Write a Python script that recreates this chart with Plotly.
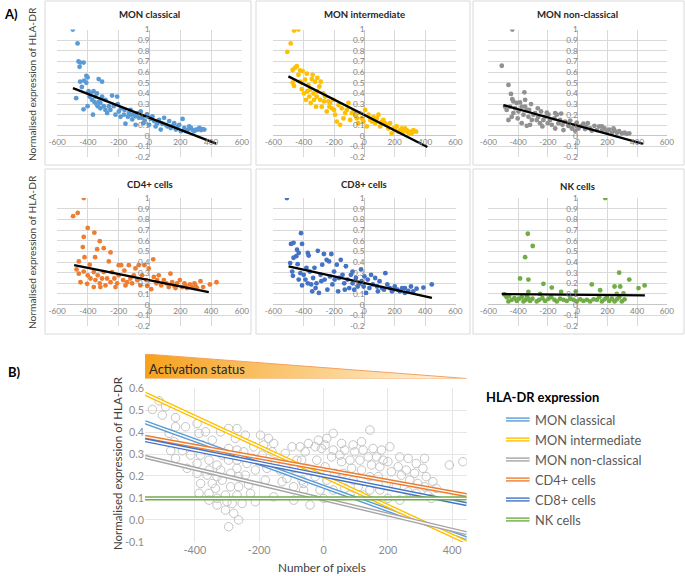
import numpy as np
import plotly.graph_objects as go

# ---------------------------------------------------------------- data
CELL_TYPES = ["MON classical", "MON intermediate", "MON non-classical",
              "CD4+ cells", "CD8+ cells", "NK cells"]
SERIES_COLORS = ["#5B9BD5", "#FFC000", "#A5A5A5", "#ED7D31", "#4472C4", "#70AD47"]
DOT_COLORS = ["#5B9BD5", "#FFC000", "#919191", "#ED7D31", "#4472C4", "#70AD47"]

MON_CLASSICAL = [(-498,1.0),(-467,0.87),(-461,0.70),(-454,0.65),(-428,0.69),(-450,0.69),(-476,0.355),(-428,0.25),
    (-439,0.46),(-450,0.51),(-424,0.52),(-410,0.565),(-402,0.55),(-410,0.50),(-395,0.42),(-384,0.40),(-402,0.28),
    (-363,0.42),(-352,0.37),(-341,0.40),(-367,0.20),(-330,0.535),(-308,0.51),(-330,0.32),(-319,0.26),(-297,0.28),
    (-286,0.34),(-275,0.215),(-254,0.245),(-243,0.38),(-221,0.20),(-210,0.37),(-199,0.23),(-188,0.18),(-166,0.20),
    (-156,0.115),(-134,0.215),(-123,0.245),(-112,0.155),(-101,0.20),(-90,0.105),(-68,0.17),(-57,0.23),(-40,0.12),
    (-14,0.185),(-3,0.105),(8,0.16),(30,0.14),(40,0.09),(62,0.15),(73,0.06),(95,0.17),(106,0.105),(128,0.14),
    (138,0.075),(160,0.12),(182,0.09),(204,0.045),(215,0.16),(226,0.075),(248,0.055),(269,0.075),(291,0.045),
    (313,0.06),(335,0.055),(345,0.065),(-389,0.37),(-373,0.34),(-358,0.32),(-345,0.30),(-319,0.31),(-308,0.37),
    (-336,0.28),(-286,0.245),(-264,0.28),(-232,0.28),(-206,0.30),(-184,0.26),(-162,0.245),(-140,0.18),(-119,0.20),
    (-90,0.185),(-75,0.215),(-47,0.17),(-31,0.145),(-18,0.20),(19,0.185),(51,0.12),(84,0.115),(117,0.09),
    (149,0.095),(171,0.06),(193,0.105),(237,0.045),(258,0.09),(280,0.055),(324,0.075),(356,0.06),(302,0.06)]

MON_INTERMEDIATE = [(-508,0.79),(-486,0.87),(-464,0.99),(-435,1.0),(-473,0.62),(-457,0.64),(-446,0.655),(-424,0.615),
    (-473,0.50),(-464,0.47),(-435,0.575),(-424,0.51),(-407,0.61),(-413,0.44),(-398,0.40),(-391,0.53),(-380,0.585),
    (-385,0.34),(-369,0.48),(-363,0.37),(-358,0.435),(-347,0.535),(-341,0.575),(-332,0.34),(-325,0.51),(-319,0.275),
    (-310,0.545),(-310,0.42),(-297,0.465),(-288,0.51),(-292,0.34),(-281,0.275),(-270,0.40),(-259,0.37),(-248,0.23),
    (-237,0.325),(-226,0.31),(-215,0.26),(-204,0.34),(-193,0.20),(-182,0.135),(-171,0.29),(-160,0.105),(-149,0.26),
    (-138,0.165),(-127,0.215),(-116,0.245),(-105,0.31),(-94,0.15),(-83,0.215),(-72,0.23),(-61,0.20),(-40,0.12),
    (-28,0.215),(-17,0.165),(-6,0.135),(5,0.245),(16,0.09),(27,0.20),(38,0.15),(60,0.18),(71,0.12),(82,0.165),
    (93,0.20),(104,0.09),(115,0.135),(125,0.15),(147,0.105),(158,0.07),(169,0.12),(180,0.025),(191,0.07),
    (213,0.09),(235,0.055),(257,0.04),(279,0.055),(301,0.04),(323,0.055),(341,0.04),(224,0.04),(268,0.07),
    (312,0.025),(-50,0.165),(49,0.135),(136,0.12),(202,0.055),(246,0.07),(290,0.03),(-376,0.42),(-354,0.31),
    (-336,0.40),(-413,0.50),(-314,0.37),(-266,0.325),(-231,0.275),(-200,0.245)]

MON_NONCLASSICAL = [(-510,0.66),(-439,1.0),(-465,0.48),(-448,0.395),(-439,0.345),(-432,0.325),(-358,0.41),(-488,0.275),
    (-477,0.245),(-465,0.15),(-454,0.275),(-432,0.215),(-421,0.26),(-409,0.31),(-398,0.23),(-387,0.315),(-376,0.275),
    (-376,0.12),(-364,0.20),(-353,0.275),(-342,0.245),(-342,0.095),(-331,0.18),(-313,0.30),(-308,0.15),(-297,0.20),
    (-286,0.215),(-275,0.15),(-264,0.18),(-246,0.23),(-237,0.09),(-230,0.15),(-219,0.18),(-201,0.12),(-196,0.20),
    (-185,0.15),(-174,0.105),(-156,0.165),(-140,0.20),(-129,0.12),(-118,0.15),(-111,0.21),(-102,0.105),(-84,0.135),
    (-62,0.095),(-50,0.145),(-39,0.07),(-21,0.105),(-6,0.125),(6,0.07),(24,0.095),(39,0.115),(50,0.065),(68,0.12),
    (84,0.07),(95,0.05),(113,0.095),(129,0.055),(145,0.09),(163,0.05),(181,0.07),(196,0.04),(212,0.06),(230,0.03),
    (248,0.05),(264,0.03),(279,0.045),(297,0.025),(315,0.03),(331,0.02),(347,0.025),(241,0.07),(163,0.09),
    (57,0.085),(-17,0.05),(-95,0.055),(-151,0.07),(-253,0.12),(-320,0.105),(-403,0.165),(-443,0.18),(-353,0.34),
    (-326,0.245),(-268,0.26),(-207,0.22),(-151,0.215)]

CD4_CELLS = [(-496,0.83),(-466,0.86),(-427,1.0),(-401,0.72),(-427,0.635),(-358,0.675),(-433,0.54),(-422,0.445),
    (-340,0.52),(-323,0.595),(-353,0.445),(-297,0.53),(-253,0.49),(-264,0.405),(-388,0.375),(-459,0.405),(-474,0.33),
    (-459,0.29),(-448,0.21),(-427,0.31),(-401,0.275),(-383,0.245),(-362,0.305),(-351,0.23),(-336,0.275),(-323,0.20),
    (-308,0.245),(-297,0.305),(-286,0.18),(-275,0.245),(-253,0.21),(-243,0.305),(-228,0.245),(-210,0.20),(-200,0.275),
    (-184,0.37),(-171,0.23),(-156,0.18),(-134,0.37),(-124,0.245),(-113,0.20),(-102,0.275),(-91,0.34),(-80,0.23),
    (-70,0.37),(-59,0.18),(-48,0.275),(-33,0.37),(-20,0.23),(-5,0.34),(11,0.145),(24,0.425),(28,0.26),(45,0.20),
    (60,0.275),(76,0.18),(93,0.23),(110,0.20),(136,0.29),(125,0.165),(147,0.21),(162,0.175),(179,0.20),(197,0.23),
    (212,0.165),(227,0.20),(244,0.155),(262,0.19),(277,0.165),(292,0.20),(309,0.155),(331,0.22),(348,0.165),
    (392,0.19),(435,0.21),(-200,0.37),(-163,0.32),(-362,0.165),(-405,0.195),(-319,0.165),(-221,0.165),(-145,0.21),
    (-15,0.175),(50,0.23),(169,0.155),(234,0.175),(299,0.175)]

CD8_CELLS = [(-511,1.0),(-418,0.67),(-411,0.57),(-484,0.57),(-467,0.58),(-444,0.515),(-433,0.485),(-449,0.455),
    (-467,0.44),(-489,0.39),(-440,0.38),(-476,0.31),(-471,0.27),(-433,0.235),(-411,0.18),(-400,0.28),(-389,0.235),
    (-373,0.485),(-367,0.46),(-373,0.20),(-360,0.31),(-344,0.125),(-338,0.25),(-329,0.345),(-316,0.20),(-307,0.505),
    (-300,0.11),(-289,0.28),(-278,0.375),(-267,0.475),(-262,0.235),(-249,0.42),(-244,0.14),(-233,0.405),(-227,0.265),
    (-218,0.475),(-211,0.19),(-200,0.31),(-182,0.375),(-173,0.125),(-167,0.25),(-156,0.42),(-144,0.28),(-129,0.14),
    (-122,0.36),(-111,0.235),(-100,0.155),(-89,0.28),(-78,0.20),(-67,0.14),(-56,0.25),(-44,0.17),(-33,0.20),
    (-18,0.22),(-5,0.17),(11,0.11),(22,0.235),(33,0.155),(44,0.28),(56,0.19),(71,0.25),(84,0.17),(100,0.22),
    (116,0.155),(129,0.14),(138,0.295),(151,0.19),(167,0.155),(182,0.125),(200,0.17),(218,0.14),(233,0.125),
    (249,0.155),(267,0.11),(289,0.13),(307,0.17),(322,0.125),(344,0.15),(389,0.16),(444,0.19),(0,0.265),(-22,0.33),
    (-78,0.31),(-133,0.20),(-196,0.235),(-284,0.22),(-322,0.155),(-351,0.19),(-382,0.345),(-422,0.295),(189,0.14),
    (267,0.155),(89,0.125)]

NK_CELLS = [(185,1.0),(-335,0.665),(-302,0.55),(-353,0.445),(-387,0.245),(-331,0.235),(-230,0.195),(-174,0.16),
    (-111,0.12),(-12,0.125),(95,0.19),(151,0.135),(248,0.17),(279,0.30),(286,0.17),(347,0.235),(409,0.155),(450,0.18),
    (-331,0.12),(308,0.105),(263,0.10),(-252,0.10),(-492,0.095),(-477,0.07),(-465,0.03),(-443,0.045),(-425,0.06),
    (-409,0.035),(-394,0.055),(-376,0.07),(-364,0.03),(-349,0.045),(-335,0.06),(-320,0.035),(-304,0.055),(-275,0.03),
    (-259,0.045),(-237,0.06),(-219,0.035),(-196,0.055),(-178,0.07),(-156,0.045),(-140,0.03),(-118,0.055),(-95,0.045),
    (-73,0.035),(-50,0.055),(-28,0.045),(-6,0.03),(17,0.05),(39,0.035),(62,0.045),(84,0.03),(107,0.05),(129,0.045),
    (145,0.07),(163,0.03),(181,0.05),(196,0.07),(212,0.035),(230,0.055),(248,0.03),(264,0.05),(279,0.07),(297,0.03),
    (315,0.05),(-342,0.08),(-461,0.08)]

PANEL_A_POINTS = [MON_CLASSICAL, MON_INTERMEDIATE, MON_NONCLASSICAL, CD4_CELLS, CD8_CELLS, NK_CELLS]

# linear trend lines of panel A: y = intercept + slope * x, drawn over [x start, x end]
TREND_A_INTERCEPT = [0.171, 0.197, 0.096, 0.228, 0.203, 0.093]
TREND_A_SLOPE = [-5.61e-4, -7.25e-4, -3.89e-4, -2.90e-4, -3.14e-4, -1.35e-5]
TREND_A_XSTART = [-497, -501, -499, -489, -500, -510]
TREND_A_XEND = [433, 415, 440, 385, 445, 452]

# panel B: pooled data (grey circles) and the six trend lines
POOLED = [(-532,0.503),(-511,0.542),(-491,0.515),(-501,0.477),(-460,0.466),(-480,0.394),(-460,0.424),(-465,0.356),
    (-475,0.315),(-460,0.28),(-439,0.315),(-429,0.424),(-424,0.235),(-413,0.295),(-393,0.439),(-387,0.394),(-367,0.401),
    (-377,0.341),(-382,0.295),(-393,0.257),(-393,0.212),(-382,0.166),(-387,0.121),(-356,0.272),(-356,0.227),(-346,0.363),
    (-362,0.204),(-356,0.121),(-356,0.09),(-346,0.166),(-331,0.25),(-331,0.197),(-336,0.144),(-320,0.401),(-315,0.295),
    (-320,0.227),(-315,0.181),(-331,0.098),(-331,0.068),(-305,0.113),(-305,0.045),(-295,0.416),(-295,0.325),(-295,0.272),
    (-289,0.212),(-289,0.151),(-300,0.083),(-284,0.075),(-295,-0.031),(-269,0.416),(-274,0.371),(-269,0.318),(-269,0.272),
    (-269,0.235),(-264,0.197),(-264,0.151),(-269,0.113),(-279,0.03),(-264,0.0),(-243,0.386),(-248,0.31),(-238,0.257),
    (-243,0.204),(-233,0.159),(-253,0.075),(-217,0.333),(-222,0.28),(-212,0.227),(-227,0.121),(-212,0.083),(-196,0.386),
    (-186,0.341),(-191,0.295),(-176,0.235),(-181,0.181),(-171,0.371),(-155,0.348),(-160,0.31),(-150,0.265),(-155,0.105),
    (-135,0.227),(-129,0.174),(-119,0.303),(-114,0.189),(-98,0.333),(-93,0.235),(-93,0.151),(-93,0.09),(-83,0.272),
    (-73,0.333),(-67,0.181),(-62,0.136),(-47,0.348),(-57,0.31),(-68,0.272),(-52,0.235),(-62,0.166),(-42,0.068),
    (-26,0.333),(-16,0.363),(-6,0.325),(-21,0.272),(-26,0.197),(-11,0.136),(5,0.341),(10,0.371),(30,0.394),(25,0.287),
    (30,0.318),(5,0.242),(10,0.181),(0,0.098),(35,0.212),(30,0.136),(56,0.348),(51,0.295),(56,0.265),(66,0.318),
    (61,0.212),(66,0.144),(92,0.341),(82,0.272),(97,0.31),(87,0.235),(92,0.181),(82,0.113),(118,0.356),(113,0.272),
    (123,0.318),(118,0.227),(108,0.151),(123,0.113),(144,0.409),(139,0.287),(154,0.325),(149,0.25),(144,0.197),
    (144,0.136),(165,0.287),(175,0.242),(180,0.318),(170,0.197),(175,0.136),(185,0.272),(206,0.333),(200,0.265),
    (211,0.219),(195,0.166),(200,0.098),(237,0.287),(232,0.242),(242,0.204),(226,0.151),(237,0.09),(263,0.28),
    (257,0.227),(268,0.181),(263,0.128),(288,0.257),(283,0.212),(293,0.166),(288,0.121),(314,0.28),(309,0.235),
    (319,0.197),(314,0.151),(324,0.113),(340,0.174),(335,0.098),(350,0.144),(391,0.25),(433,0.265)]

TREND_B_INTERCEPT = [0.151, 0.199, 0.094, 0.231, 0.2015, 0.098]
TREND_B_SLOPE = [-5.29e-4, -6.77e-4, -3.48e-4, -2.65e-4, -2.91e-4, 0.0]

A_X_TICKS = [-600, -400, -200, 0, 200, 400, 600]
A_Y_TICKS = [-0.2, -0.1, 0, 0.1, 0.2, 0.3, 0.4, 0.5, 0.6, 0.7, 0.8, 0.9, 1]
A_Y_LABELS = ["-0.2", "-0.1", "0", "0.1", "0.2", "0.3", "0.4", "0.5", "0.6", "0.7", "0.8", "0.9", "1"]
B_X_TICKS = [-400, -200, 0, 200, 400]
B_Y_TICKS = [-0.1, 0, 0.1, 0.2, 0.3, 0.4, 0.5, 0.6]
B_Y_LABELS = ["-0.1", "0.0", "0.1", "0.2", "0.3", "0.4", "0.5", "0.6"]

Y_TITLE = "Normalised expression of HLA-DR"
X_TITLE_B = "Number of pixels"
LEGEND_TITLE = "HLA-DR expression"
BANNER_TEXT = "Activation status"

# ---------------------------------------------------------------- layout helpers
W, H = 685, 576
FONT = "Lato"


def fx(p):
    return p / W


def fy(p):
    return 1 - p / H


A_XRANGE = [-600.5, 600.5]
A_YRANGE = [-0.2005, 1.0005]
COL_PX = [(57, 242), (273.3, 455.5), (488.3, 667)]
ROW_PX = [(29.5, 157.3), (198, 326)]
TITLE_PY = [15, 15, 15, 184, 184, 186]
BOX_X = [(45, 251), (256, 470), (473, 684)]
BOX_Y = [(1, 165), (169, 334)]

B_XRANGE = [-555, 445]
B_YRANGE = [-0.1005, 0.6005]
B_XPX = (145, 466.7)
B_YPX = (388, 542)

fig = go.Figure()
layout = dict(width=W, height=H, margin=dict(l=0, r=0, t=0, b=0, pad=0, autoexpand=False),
              paper_bgcolor="white", plot_bgcolor="rgba(0,0,0,0)",
              showlegend=False, font=dict(family=FONT, color="#404040"))
shapes, annotations = [], []

# ---------------------------------------------------------------- panel A
for i, name in enumerate(CELL_TYPES):
    r, c = divmod(i, 3)
    k = "" if i == 0 else str(i + 1)
    xd = [fx(COL_PX[c][0]), fx(COL_PX[c][1])]
    yd = [fy(ROW_PX[r][1]), fy(ROW_PX[r][0])]
    y_zero_pos = yd[0] + (0 - A_YRANGE[0]) / (A_YRANGE[1] - A_YRANGE[0]) * (yd[1] - yd[0])
    x_zero_pos = xd[0] + (0 - A_XRANGE[0]) / (A_XRANGE[1] - A_XRANGE[0]) * (xd[1] - xd[0])
    layout["xaxis" + k] = dict(domain=xd, range=A_XRANGE, anchor="free", position=y_zero_pos,
                               tickvals=A_X_TICKS, ticktext=[str(v) for v in A_X_TICKS],
                               showgrid=True, gridcolor="#d9d9d9", gridwidth=1,
                               zeroline=True, zerolinecolor="#c6c6c6", zerolinewidth=1,
                               showline=False, ticks="", tickfont=dict(size=8.2, color="#7f7f7f"),
                               automargin=False, fixedrange=True)
    layout["yaxis" + k] = dict(domain=yd, range=A_YRANGE, anchor="free", position=x_zero_pos,
                               tickvals=A_Y_TICKS, ticktext=A_Y_LABELS,
                               showgrid=True, gridcolor="#d9d9d9", gridwidth=1,
                               zeroline=True, zerolinecolor="#c6c6c6", zerolinewidth=1,
                               showline=False, ticks="", tickfont=dict(size=8.2, color="#7f7f7f"),
                               automargin=False, fixedrange=True)
    pts = PANEL_A_POINTS[i]
    px_, py_ = zip(*pts)
    fig.add_trace(go.Scatter(x=list(px_), y=list(py_), mode="markers", xaxis="x" + k, yaxis="y" + k,
                             marker=dict(size=4.8, color=DOT_COLORS[i], line=dict(width=0)),
                             name=name, hoverinfo="x+y"))
    tx = np.array([TREND_A_XSTART[i], TREND_A_XEND[i]], dtype=float)
    ty = TREND_A_INTERCEPT[i] + TREND_A_SLOPE[i] * tx
    fig.add_trace(go.Scatter(x=tx, y=ty, mode="lines", xaxis="x" + k, yaxis="y" + k,
                             line=dict(color="black", width=2.3), hoverinfo="skip"))
    annotations.append(dict(text="<b>%s</b>" % name, x=(xd[0] + xd[1]) / 2, y=fy(TITLE_PY[i]),
                            xref="paper", yref="paper", showarrow=False, xanchor="center", yanchor="middle",
                            font=dict(size=9.6, color="#262626")))
    shapes.append(dict(type="rect", xref="paper", yref="paper", x0=fx(BOX_X[c][0]), x1=fx(BOX_X[c][1]),
                       y0=fy(BOX_Y[r][1]), y1=fy(BOX_Y[r][0]), line=dict(color="#d9d9d9", width=1),
                       fillcolor="rgba(0,0,0,0)", layer="below"))

for cy in (84, 252):
    annotations.append(dict(text=Y_TITLE, x=fx(32), y=fy(cy), xref="paper", yref="paper", showarrow=False,
                            textangle=-90, xanchor="center", yanchor="middle",
                            font=dict(size=10.2, color="#404040")))

annotations.append(dict(text="<b>A)</b>", x=fx(2), y=fy(14), xref="paper", yref="paper", showarrow=False,
                        xanchor="left", yanchor="middle", font=dict(size=13, color="black")))
annotations.append(dict(text="<b>B)</b>", x=fx(6), y=fy(372), xref="paper", yref="paper", showarrow=False,
                        xanchor="left", yanchor="middle", font=dict(size=13, color="black")))

# ---------------------------------------------------------------- panel B
bxd = [fx(B_XPX[0]), fx(B_XPX[1])]
byd = [fy(B_YPX[1]), fy(B_YPX[0])]
layout["xaxis7"] = dict(domain=bxd, range=B_XRANGE, anchor="y7", tickvals=B_X_TICKS,
                        ticktext=[str(v) for v in B_X_TICKS], showgrid=True, gridcolor="#e6e6e6",
                        zeroline=False, showline=False, ticks="", tickfont=dict(size=10.8, color="#8c8c8c"),
                        automargin=False, fixedrange=True)
layout["yaxis7"] = dict(domain=byd, range=B_YRANGE, anchor="x7", tickvals=B_Y_TICKS, ticktext=B_Y_LABELS,
                        showgrid=True, gridcolor="#e6e6e6", zeroline=False, showline=False, ticks="",
                        tickfont=dict(size=10.8, color="#8c8c8c"), automargin=False, fixedrange=True)

bx, by = zip(*POOLED)
fig.add_trace(go.Scatter(x=list(bx), y=list(by), mode="markers", xaxis="x7", yaxis="y7",
                         marker=dict(symbol="circle-open", size=8.5, color="#c4c4c4", line=dict(width=1)),
                         hoverinfo="x+y"))
lx = np.array(B_XRANGE, dtype=float)
for i, name in enumerate(CELL_TYPES):
    ly = TREND_B_INTERCEPT[i] + TREND_B_SLOPE[i] * lx
    fig.add_trace(go.Scatter(x=lx, y=ly, mode="lines", xaxis="x7", yaxis="y7", name=name,
                             line=dict(color=SERIES_COLORS[i], width=4.2), hoverinfo="name"))
    fig.add_trace(go.Scatter(x=lx, y=ly, mode="lines", xaxis="x7", yaxis="y7",
                             line=dict(color="white", width=1.4), hoverinfo="skip"))

annotations.append(dict(text=Y_TITLE, x=fx(117), y=fy(463), xref="paper", yref="paper", showarrow=False,
                        textangle=-90, xanchor="center", yanchor="middle", font=dict(size=11.5, color="#404040")))
annotations.append(dict(text=X_TITLE_B, x=fx(322), y=fy(567), xref="paper", yref="paper", showarrow=False,
                        xanchor="center", yanchor="middle", font=dict(size=11.8, color="#404040")))

# activation banner (gradient triangle)
layout["xaxis8"] = dict(domain=bxd, range=[0, 1], anchor="y8", visible=False, fixedrange=True,
                        automargin=False)
layout["yaxis8"] = dict(domain=[fy(378.5), fy(354)], range=[0, 1], anchor="x8", visible=False,
                        fixedrange=True, automargin=False)
fig.add_trace(go.Scatter(x=[0, 0, 1, 0], y=[0, 1, 0, 0], mode="lines", xaxis="x8", yaxis="y8",
                         fill="toself",
                         fillgradient=dict(type="horizontal",
                                           colorscale=[[0, "#F7A11A"], [0.55, "#FBD08A"], [1, "#FFF6EA"]]),
                         line=dict(color="#F4A15E", width=1), hoverinfo="skip"))
annotations.append(dict(text=BANNER_TEXT, x=fx(147), y=fy(368.5), xref="paper", yref="paper", showarrow=False,
                        xanchor="left", yanchor="middle", font=dict(size=13, color="#262626")))

# legend (double-line symbols)
annotations.append(dict(text="<b>%s</b>" % LEGEND_TITLE, x=fx(484), y=fy(397), xref="paper", yref="paper",
                        showarrow=False, xanchor="left", yanchor="middle", font=dict(size=12.9, color="black")))
for i, name in enumerate(CELL_TYPES):
    yy = fy(419.5 + 20 * i)
    shapes.append(dict(type="line", xref="paper", yref="paper", x0=fx(506), x1=fx(529.5), y0=yy, y1=yy,
                       line=dict(color=SERIES_COLORS[i], width=4.2)))
    shapes.append(dict(type="line", xref="paper", yref="paper", x0=fx(506), x1=fx(529.5), y0=yy, y1=yy,
                       line=dict(color="white", width=1.4)))
    annotations.append(dict(text=name, x=fx(533), y=yy, xref="paper", yref="paper", showarrow=False,
                            xanchor="left", yanchor="middle", font=dict(size=12.8, color="#595959")))

layout["shapes"] = shapes
layout["annotations"] = annotations
fig.update_layout(**layout)
fig.write_html("out.html", config={"displayModeBar": False},
               post_script="document.body.style.margin='0px';document.body.style.padding='0px';")
